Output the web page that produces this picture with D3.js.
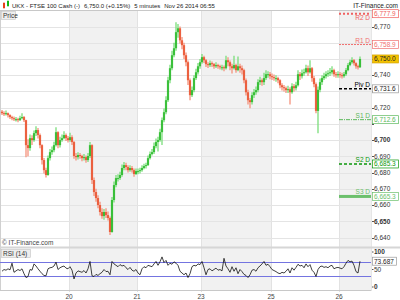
<!DOCTYPE html>
<html lang="en">
<head>
<meta charset="utf-8">
<title>UKX - FTSE 100 Cash 5 minutes</title>
<script type="text/javascript" src="https://cdn.jsdelivr.net/npm/d3@7"></script>
<style>
body { margin: 0; background: #fff; }
svg { display: block; font-family: "Liberation Sans", Arial, sans-serif; }
</style>
</head>
<body>
<script type="text/javascript">

//DATA
var dayLabels = ["19", "20", "21", "23", "25", "26"];
var dayStarts = [0, 34, 68, 100, 135, 169];
var dayEnd = 185;
var firstOpen = 6717.5;

var closes = [
 6716.6, 6716.0, 6716.6, 6715.4, 6714.2, 6713.5, 6712.9, 6712.9, 6712.3, 6713.5, 6714.2, 6712.3, 6696.9, 6695.1, 6701.2, 6700.0, 6704.3,
 6706.2, 6703.1, 6696.9, 6687.7, 6681.5, 6678.5, 6688.9, 6692.6, 6693.8, 6696.9, 6704.9, 6696.9, 6700.0, 6701.2, 6703.1, 6701.2, 6700.0,
 6701.8, 6698.8, 6690.2, 6689.5, 6690.8, 6690.2, 6688.9, 6689.5, 6687.7, 6690.2, 6696.9, 6675.4, 6668.0, 6664.3, 6660.0, 6655.7, 6653.2,
 6655.7, 6653.8, 6652.0, 6643.4, 6663.1, 6672.3, 6676.6, 6676.6, 6678.5, 6682.8, 6684.6, 6683.4, 6681.5, 6682.8, 6681.5, 6679.1, 6680.9,
 6680.9, 6681.5, 6682.8, 6684.0, 6684.6, 6688.9, 6691.4, 6692.6, 6696.3, 6698.8, 6700.0, 6704.9, 6712.3, 6717.2, 6724.6, 6736.9,
 6744.3, 6752.3, 6756.6, 6766.5, 6768.9, 6761.5, 6758.5, 6752.3, 6748.0, 6736.9, 6727.7, 6730.8, 6738.2, 6741.8, 6745.5, 6748.0,
 6751.1, 6749.2, 6746.8, 6746.2, 6747.4, 6746.8, 6745.5, 6746.2, 6745.5, 6744.9, 6744.9, 6744.3, 6749.2, 6748.0, 6745.5, 6744.3, 6746.2,
 6743.1, 6745.5, 6744.3, 6743.1, 6736.9, 6729.5, 6724.6, 6723.4, 6727.7, 6729.5, 6730.8, 6735.7, 6736.9, 6735.7, 6738.2, 6740.6, 6740.6, 6739.4,
 6738.8, 6738.2, 6738.2, 6736.9, 6733.8, 6732.6, 6732.0, 6730.8, 6731.4, 6729.5, 6733.2, 6732.0, 6733.8, 6740.6, 6739.4, 6741.2, 6741.8,
 6744.3, 6741.8, 6744.3, 6738.2, 6734.5, 6718.0, 6731.0, 6735.7, 6738.2, 6739.4, 6740.6, 6741.2, 6741.8, 6743.1, 6740.6, 6740.0, 6740.6,
 6740.0, 6739.4, 6740.6, 6743.1, 6746.2, 6748.0, 6749.2, 6747.4, 6745.5, 6744.9, 6750.0
];
var highs = [
 6718.5, 6717.8, 6718.2, 6717.0, 6716.0, 6715.0, 6714.5, 6714.2, 6713.8, 6715.0, 6716.5, 6714.8, 6712.5, 6700.5, 6703.5, 6703.0, 6706.0,
 6708.5, 6707.5, 6704.0, 6697.5, 6689.0, 6683.0, 6690.5, 6694.5, 6696.0, 6699.0, 6708.0, 6705.5, 6702.0, 6703.5, 6705.5, 6704.0, 6702.5,
 6704.5, 6703.0, 6699.5, 6692.0, 6692.5, 6692.0, 6691.0, 6691.5, 6690.5, 6692.0, 6698.8, 6697.5, 6677.0, 6670.0, 6666.0, 6662.0, 6658.0,
 6657.5, 6658.0, 6656.0, 6653.0, 6665.0, 6674.5, 6678.5, 6679.0, 6680.5, 6685.0, 6686.5, 6686.0, 6684.5, 6684.5, 6684.0, 6682.5, 6682.5,
 6682.5, 6683.0, 6684.5, 6685.5, 6686.0, 6690.5, 6693.0, 6694.5, 6698.5, 6701.0, 6702.0, 6707.0, 6714.0, 6719.5, 6727.0, 6739.0,
 6746.5, 6755.0, 6760.0, 6772.6, 6771.5, 6770.0, 6763.5, 6760.0, 6754.0, 6749.0, 6738.0, 6733.0, 6740.0, 6744.0, 6747.5, 6750.0,
 6753.0, 6752.0, 6750.0, 6748.0, 6749.0, 6748.5, 6747.5, 6748.0, 6747.0, 6746.5, 6746.5, 6746.0, 6752.0, 6751.0, 6749.0, 6747.0, 6752.0,
 6747.0, 6751.5, 6747.0, 6746.0, 6744.0, 6738.0, 6731.0, 6726.0, 6729.5, 6731.5, 6733.0, 6737.5, 6739.0, 6738.0, 6741.5, 6743.0, 6742.5, 6742.0,
 6741.0, 6740.5, 6740.0, 6739.0, 6737.5, 6735.0, 6734.0, 6733.0, 6733.5, 6732.5, 6735.0, 6734.5, 6736.0, 6743.0, 6742.0, 6743.5, 6744.0,
 6746.5, 6746.0, 6749.2, 6745.0, 6739.5, 6735.5, 6733.0, 6738.0, 6740.0, 6741.5, 6742.5, 6743.0, 6744.5, 6745.5, 6744.0, 6742.0, 6742.5,
 6742.0, 6741.5, 6742.0, 6744.5, 6747.5, 6749.5, 6751.0, 6750.0, 6748.0, 6746.5, 6751.5
];
var lows = [
 6715.5, 6714.8, 6715.2, 6714.0, 6713.0, 6712.2, 6711.8, 6711.5, 6711.0, 6711.8, 6712.8, 6711.2, 6689.5, 6690.0, 6693.5, 6697.0, 6699.0,
 6702.5, 6701.0, 6695.0, 6685.0, 6679.5, 6677.0, 6678.0, 6687.5, 6691.0, 6692.5, 6696.0, 6695.0, 6695.5, 6699.0, 6700.5, 6699.5, 6698.5,
 6699.0, 6697.0, 6688.5, 6687.5, 6688.0, 6688.5, 6687.0, 6687.5, 6686.0, 6686.5, 6689.0, 6673.0, 6665.5, 6662.0, 6658.0, 6653.5, 6651.5,
 6651.0, 6652.0, 6650.5, 6641.5, 6643.0, 6661.5, 6671.0, 6674.5, 6675.5, 6677.5, 6681.5, 6681.5, 6680.0, 6680.5, 6680.0, 6677.5, 6678.5,
 6679.0, 6679.5, 6680.5, 6682.0, 6682.5, 6684.0, 6688.0, 6690.5, 6691.5, 6695.0, 6693.0, 6699.0, 6697.0, 6711.0, 6716.0, 6723.5,
 6735.0, 6743.0, 6751.0, 6755.0, 6763.0, 6759.5, 6756.0, 6750.0, 6745.5, 6734.0, 6724.6, 6726.5, 6729.5, 6737.0, 6740.5, 6744.0,
 6747.0, 6747.5, 6745.0, 6744.5, 6745.0, 6745.0, 6744.0, 6744.5, 6744.0, 6743.5, 6743.0, 6742.5, 6743.5, 6745.5, 6743.0, 6741.0, 6743.5,
 6741.5, 6742.5, 6741.5, 6740.5, 6735.0, 6727.5, 6722.0, 6719.7, 6722.0, 6726.0, 6728.0, 6729.5, 6734.0, 6733.5, 6734.0, 6737.0, 6738.5, 6737.5,
 6737.0, 6736.5, 6736.0, 6735.0, 6732.0, 6730.5, 6730.0, 6729.0, 6729.0, 6722.0, 6728.5, 6730.0, 6730.5, 6733.0, 6737.0, 6738.0, 6739.5,
 6741.0, 6739.5, 6741.0, 6736.0, 6732.5, 6716.5, 6704.3, 6729.5, 6734.0, 6737.0, 6738.0, 6739.0, 6739.5, 6740.5, 6739.0, 6738.5, 6738.5,
 6738.5, 6738.0, 6738.5, 6739.5, 6742.5, 6745.5, 6747.0, 6746.0, 6744.0, 6743.5, 6744.5
];
var rsi = [
 45, 50, 48, 52, 49, 68, 42, 46, 50, 47, 52, 38, 27, 30, 50, 48, 66, 60, 52, 45, 38, 33, 32, 52, 55, 56, 60, 71, 50, 55, 58, 60, 54, 52,
 58, 48, 23, 40, 46, 44, 42, 47, 40, 52, 73, 32, 30, 36, 33, 38, 42, 50, 44, 45, 35, 73, 66, 62, 58, 64, 60, 62, 55, 50, 56, 48, 45, 50,
 40, 35, 52, 58, 55, 62, 60, 58, 66, 73, 62, 72, 86, 70, 76, 62, 68, 65, 72, 68, 62, 45, 40, 35, 40, 27, 38, 58, 62, 60, 66, 64,
 73, 55, 35, 50, 52, 46, 50, 54, 48, 50, 46, 82, 60, 52, 42, 58, 45, 55, 38, 50, 44, 36, 33, 27, 35, 48, 50, 45, 55, 60, 66, 73, 62, 65, 58,
 50, 47, 44, 40, 38, 42, 40, 45, 52, 40, 55, 48, 56, 65, 60, 62, 55, 66, 58, 64, 48, 42, 30, 50, 58, 60, 56, 58, 55, 60, 62, 52, 55, 56,
 54, 52, 58, 68, 76, 72, 74, 62, 44, 40, 73.687
];

var priceTicks = [6640, 6650, 6660, 6670, 6680, 6690, 6700, 6710, 6720, 6730, 6740, 6750, 6760, 6770];
var pivotNames = ["R2 D", "R1 D", "Piv D", "S1 D", "S2 D", "S3 D"];
var pivotValues = [6777.9, 6758.9, 6731.6, 6712.6, 6685.3, 6665.3];
var lastPrice = 6750.0;
var rsiLevels = [70, 30];
var rsiTicks = [100, 50, 0];

//STYLES
var pivotColors = ["#f06060", "#f07070", "#000000", "#5cb85c", "#0a960a", "#6cc06c"];
var pivotWidths = [2, 1, 1.5, 1, 1.5, 3];
var pivotDash = ["2,2", "2,1", "3,2", "4,1,1,1", "3,2", null];

var w = 400;
var h = 300;
var plotRight = 371;

var svg = d3.select("body")
  .append("svg")
  .attr("width", w)
  .attr("height", h);

//SCALES
var x = d3.scaleLinear().domain([-1, 184.5]).range([0, plotRight]);
var y = d3.scaleLinear().domain([6640, 6770]).range([237.5, 26.5]);
var yr = d3.scaleLinear().domain([0, 100]).range([287, 252]);
var fmt = d3.format(",.1f");

svg.append("rect").attr("width", w).attr("height", h).attr("fill", "#fff");

//shaded days (every second day)
svg.selectAll("rect.day")
  .data(dayStarts.filter(function(d, i) { return i % 2 == 1; }))
  .enter()
  .append("rect")
  .attr("class", "day")
  .attr("x", function(d) { return x(d - 0.5); })
  .attr("y", 10)
  .attr("width", function(d) {
    var k = dayStarts.indexOf(d);
    var end = k + 1 < dayStarts.length ? dayStarts[k + 1] : dayEnd;
    return Math.min(x(end - 0.5), plotRight) - x(d - 0.5);
  })
  .attr("height", 280)
  .attr("fill", "#f1f1f1");

//day lines
svg.selectAll("line.vgrid")
  .data(dayStarts.slice(1))
  .enter()
  .append("line")
  .attr("class", "vgrid")
  .attr("x1", function(d) { return Math.round(x(d - 0.5)) + 0.5; })
  .attr("x2", function(d) { return Math.round(x(d - 0.5)) + 0.5; })
  .attr("y1", 10)
  .attr("y2", 292)
  .attr("stroke", "#e2e2e2");

//price grid
svg.selectAll("line.hgrid")
  .data(priceTicks)
  .enter()
  .append("line")
  .attr("class", "hgrid")
  .attr("x1", 0)
  .attr("x2", plotRight)
  .attr("y1", function(d) { return Math.round(y(d)) + 0.5; })
  .attr("y2", function(d) { return Math.round(y(d)) + 0.5; })
  .attr("stroke", "#e4e4e4");

svg.append("line").attr("x1", 0.5).attr("x2", 0.5).attr("y1", 10).attr("y2", 291).attr("stroke", "#d0d0d0");
svg.append("line").attr("x1", plotRight + 0.5).attr("x2", plotRight + 0.5).attr("y1", 10).attr("y2", 291).attr("stroke", "#e6e6e6");

//CANDLES
var bars = svg.append("g");
closes.forEach(function(c, i) {
  var o = i == 0 ? firstOpen : closes[i - 1];
  var up = c >= o;
  bars.append("line")
    .attr("x1", x(i)).attr("x2", x(i))
    .attr("y1", y(highs[i])).attr("y2", y(lows[i]))
    .attr("stroke", up ? "#7ade7a" : "#f5927c")
    .attr("stroke-width", 1.3);
  bars.append("rect")
    .attr("x", x(i) - 1.1)
    .attr("y", y(Math.max(o, c)))
    .attr("width", 2.2)
    .attr("height", Math.max(1, Math.abs(y(o) - y(c))))
    .attr("fill", up ? "#10b010" : "#e84018")
    .attr("fill-opacity", 0.72);
});

//PIVOT LINES (current day)
var pivStart = x(dayStarts[5] - 0.5);
svg.selectAll("line.piv")
  .data(pivotValues)
  .enter()
  .append("line")
  .attr("class", "piv")
  .attr("x1", pivStart)
  .attr("x2", plotRight)
  .attr("y1", function(d) { return y(d); })
  .attr("y2", function(d) { return y(d); })
  .attr("stroke", function(d, i) { return pivotColors[i]; })
  .attr("stroke-width", function(d, i) { return pivotWidths[i]; })
  .attr("stroke-dasharray", function(d, i) { return pivotDash[i]; });

// top label sits under its line so the header does not cover it
svg.selectAll("text.pivname")
  .data(pivotValues)
  .enter()
  .append("text")
  .attr("class", "pivname")
  .text(function(d, i) { return pivotNames[i]; })
  .attr("x", plotRight - 1)
  .attr("y", function(d, i) { return i == 0 ? y(d) + 6.5 : y(d) - pivotWidths[i] / 2 - 1; })
  .attr("text-anchor", "end")
  .attr("font-size", "6.5px")
  .attr("fill", function(d, i) { return pivotColors[i]; });

//HEADER
svg.append("rect").attr("x", 0).attr("y", 0).attr("width", w).attr("height", 10).attr("fill", "#fff");
svg.append("line").attr("x1", 0).attr("x2", w).attr("y1", 10.5).attr("y2", 10.5).attr("stroke", "#c8c8c8");
svg.append("rect").attr("x", 3).attr("y", 3).attr("width", 2).attr("height", 5).attr("fill", "#e8401a");
svg.append("line").attr("x1", 4).attr("x2", 4).attr("y1", 2).attr("y2", 9).attr("stroke", "#e8401a").attr("stroke-width", 0.6);
svg.append("rect").attr("x", 7).attr("y", 1).attr("width", 2).attr("height", 5).attr("fill", "#14b814");
svg.append("line").attr("x1", 8).attr("x2", 8).attr("y1", 0).attr("y2", 7).attr("stroke", "#14b814").attr("stroke-width", 0.6);

var headTexts = ["UKX - FTSE 100 Cash (-)", fmt(lastPrice) + " (+0.15%)", "5 minutes", "Nov 26 2014 06:55"];
var headX = [12, 79, 128, 158];
var prevEnd = 0;
headTexts.forEach(function(t, i) {
  var tx = svg.append("text")
    .text(t)
    .attr("x", Math.max(headX[i], prevEnd + 4))
    .attr("y", 7.5)
    .attr("font-size", "6px")
    .attr("fill", "#222");
  prevEnd = +tx.attr("x") + tx.node().getComputedTextLength();
});
svg.append("text").text("IT-Finance.com").attr("x", 398).attr("y", 7.5)
  .attr("text-anchor", "end").attr("font-size", "6.5px").attr("fill", "#222");

svg.append("rect").attr("x", 1.5).attr("y", 11.5).attr("width", 14).attr("height", 8)
  .attr("fill", "#eeeeee").attr("stroke", "#c4c4c4").attr("stroke-width", 0.6);
svg.append("text").text("Price").attr("x", 3).attr("y", 18).attr("font-size", "6.5px").attr("fill", "#333");

//RIGHT PRICE AXIS
var boxValues = pivotValues.concat([lastPrice]);
var freeTicks = priceTicks.filter(function(t) {
  return boxValues.every(function(b) { return Math.abs(y(t) - y(b)) > 7; });
});
svg.selectAll("line.ptick")
  .data(priceTicks)
  .enter()
  .append("line")
  .attr("class", "ptick")
  .attr("x1", plotRight + 1).attr("x2", plotRight + 3)
  .attr("y1", function(d) { return Math.round(y(d)) + 0.5; })
  .attr("y2", function(d) { return Math.round(y(d)) + 0.5; })
  .attr("stroke", "#555");
svg.selectAll("text.plab")
  .data(freeTicks)
  .enter()
  .append("text")
  .attr("class", "plab")
  .text(function(d) { return d3.format(",")(d); })
  .attr("x", plotRight + 3)
  .attr("y", function(d) { return y(d) + 2.3; })
  .attr("font-size", "6.5px")
  .attr("font-weight", function(d) { return d % 50 == 0 ? "bold" : "normal"; })
  .attr("fill", "#333");

//value boxes
svg.selectAll("rect.vbox")
  .data(boxValues)
  .enter()
  .append("rect")
  .attr("class", "vbox")
  .attr("x", plotRight + 1.5)
  .attr("y", function(d) { return y(d) - 4; })
  .attr("width", 26)
  .attr("height", 8)
  .attr("fill", function(d, i) { return i == 6 ? "#f4c300" : "#fff"; })
  .attr("stroke", function(d, i) { return i == 6 ? "#d0a000" : (i == 2 ? "#999" : pivotColors[i]); })
  .attr("stroke-width", 0.7);
svg.selectAll("text.vtext")
  .data(boxValues)
  .enter()
  .append("text")
  .attr("class", "vtext")
  .text(function(d) { return fmt(d); })
  .attr("x", plotRight + 3)
  .attr("y", function(d) { return y(d) + 2.3; })
  .attr("font-size", "6.5px")
  .attr("fill", function(d, i) { return i == 6 || i == 2 ? "#222" : pivotColors[i]; });

//PANEL SEPARATOR
svg.append("rect").attr("x", 0).attr("y", 246.5).attr("width", w).attr("height", 2).attr("fill", "#d6d6d6");
svg.append("text").text("\u00a9 IT-Finance.com").attr("x", 2).attr("y", 245)
  .attr("font-size", "6.5px").attr("fill", "#444");

//RSI PANEL
svg.selectAll("line.rlev")
  .data(rsiLevels)
  .enter()
  .append("line")
  .attr("class", "rlev")
  .attr("x1", 0).attr("x2", plotRight)
  .attr("y1", function(d) { return yr(d); })
  .attr("y2", function(d) { return yr(d); })
  .attr("stroke", "#7474e0")
  .attr("stroke-width", 1.2);

var rsiLine = d3.line()
  .x(function(d, i) { return x(i); })
  .y(function(d) { return yr(d); });
svg.append("path")
  .attr("d", rsiLine(rsi))
  .attr("fill", "none")
  .attr("stroke", "#111")
  .attr("stroke-width", 0.8);

svg.append("rect").attr("x", 1.5).attr("y", 249.5).attr("width", 29).attr("height", 8)
  .attr("fill", "#eeeeee").attr("stroke", "#c4c4c4").attr("stroke-width", 0.6);
svg.append("text").text("RSI (14)").attr("x", 3).attr("y", 256).attr("font-size", "6.5px").attr("fill", "#333");

var lastRsi = rsi[rsi.length - 1];
svg.selectAll("text.rlab")
  .data(rsiTicks.filter(function(t) { return Math.abs(yr(t) - yr(lastRsi)) > 7; }))
  .enter()
  .append("text")
  .attr("class", "rlab")
  .text(function(d) { return d; })
  .attr("x", plotRight + 3)
  .attr("y", function(d) { return yr(d) + 2.3; })
  .attr("font-size", "6.5px")
  .attr("font-weight", function(d) { return d == 50 ? "normal" : "bold"; })
  .attr("fill", "#333");
svg.selectAll("line.rtick")
  .data(rsiTicks)
  .enter()
  .append("line")
  .attr("class", "rtick")
  .attr("x1", plotRight + 1).attr("x2", plotRight + 2.5)
  .attr("y1", function(d) { return yr(d); })
  .attr("y2", function(d) { return yr(d); })
  .attr("stroke", "#555");

svg.append("rect").attr("x", plotRight + 1.5).attr("y", yr(lastRsi) - 4).attr("width", 24).attr("height", 8)
  .attr("fill", "#fff").attr("stroke", "#999").attr("stroke-width", 0.7);
svg.append("text").text(d3.format(".3f")(lastRsi)).attr("x", plotRight + 3).attr("y", yr(lastRsi) + 2.3)
  .attr("font-size", "6.5px").attr("fill", "#222");

//X AXIS
svg.append("line").attr("x1", 0).attr("x2", plotRight).attr("y1", 290.5).attr("y2", 290.5).attr("stroke", "#c8c8c8");
svg.selectAll("text.xlab")
  .data(dayStarts.slice(1))
  .enter()
  .append("text")
  .attr("class", "xlab")
  .text(function(d, i) { return dayLabels[i + 1]; })
  .attr("x", function(d) { return x(d - 0.5); })
  .attr("y", 298.5)
  .attr("text-anchor", "middle")
  .attr("font-size", "6.5px")
  .attr("fill", "#444");

</script>
</body>
</html>
